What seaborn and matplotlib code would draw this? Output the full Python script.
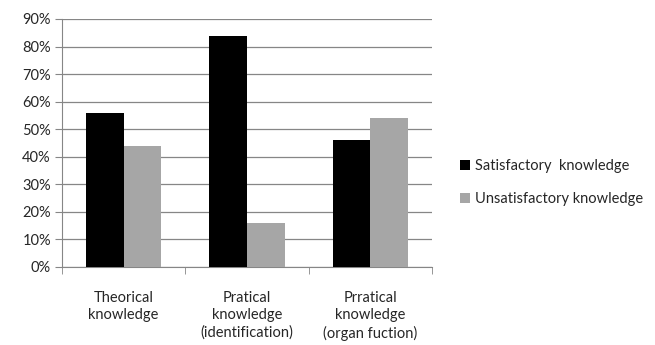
import matplotlib
matplotlib.use("Agg")
import matplotlib.pyplot as plt
import seaborn as sns
import pandas as pd
from matplotlib.ticker import MultipleLocator, FuncFormatter

categories = ["Theorical\nknowledge", "Pratical\nknowledge\n(identification)", "Prratical\nknowledge\n(organ fuction)"]
series_names = ["Satisfactory  knowledge", "Unsatisfactory knowledge"]
satisfactory = [56, 84, 46]
unsatisfactory = [44, 16, 54]

rows = []
for c, s, u in zip(categories, satisfactory, unsatisfactory):
    rows.append({"cat": c, "series": series_names[0], "val": s})
    rows.append({"cat": c, "series": series_names[1], "val": u})
df = pd.DataFrame(rows)

sns.set_style("white")
plt.rcParams['font.family'] = ['Lato', 'DejaVu Sans']

fig = plt.figure(figsize=(6.55, 3.45), dpi=100)
ax = fig.add_axes([62/655, 1-267/345, 370/655, 248/345])

sns.barplot(data=df, x="cat", y="val", hue="series",
            palette=["#000000", "#A6A6A6"], width=0.61, saturation=1,
            linewidth=0, ax=ax, zorder=3)

ax.set_ylim(0, 90)
ax.yaxis.set_major_locator(MultipleLocator(10))
ax.yaxis.set_major_formatter(FuncFormatter(lambda v, p: f"{int(v)}%"))
ax.grid(axis="y", color="#868686", linewidth=0.9, zorder=0)
ax.set_axisbelow(True)
for side in ["top", "right"]:
    ax.spines[side].set_visible(False)
ax.spines["left"].set_color("#868686")
ax.spines["bottom"].set_color("#868686")
ax.set_xlabel("")
ax.set_ylabel("")
ax.tick_params(axis="y", length=5, color="#868686", labelsize=10.5, pad=3, left=True)
ax.tick_params(axis="x", length=0, labelsize=10.5, pad=17)
ax.set_xticks([0, 1, 2])
ax.set_xticklabels(categories, linespacing=1.3)
for lab in ax.get_xticklabels():
    lab.set_verticalalignment("top")
ax.set_xticks([-0.5, 0.5, 1.5, 2.5], minor=True)
ax.tick_params(axis="x", which="minor", length=5, color="#868686", bottom=True)
ax.set_xlim(-0.5, 2.5)

leg = ax.legend(loc="center left", bbox_to_anchor=(1.04, 0.34), frameon=False,
                fontsize=10.5, handlelength=0.7, handleheight=0.7, handletextpad=0.3,
                labelspacing=1.3)

fig.savefig("out.png", dpi=100)
